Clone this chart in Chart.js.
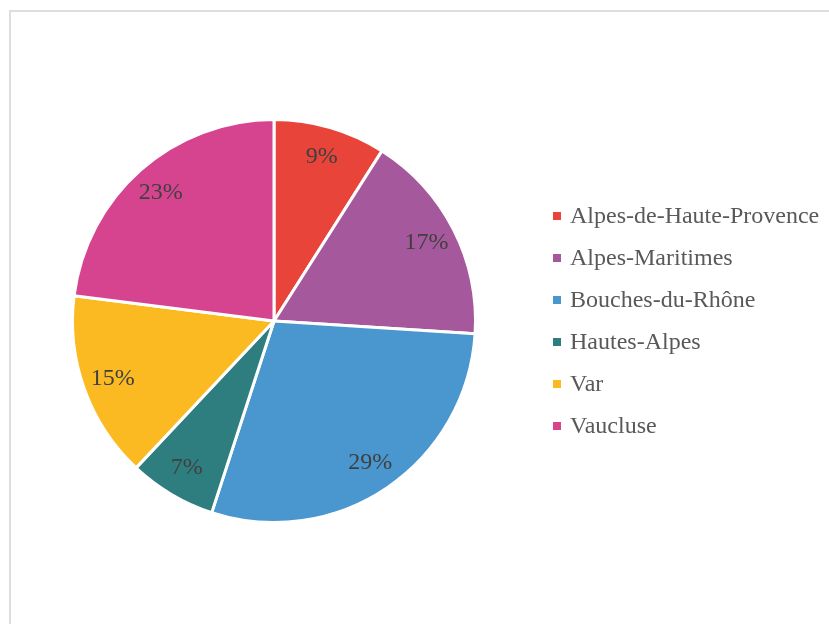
<!DOCTYPE html>
<html lang="fr">
<head>
<meta charset="utf-8">
<title>Répartition par département</title>
<script src="https://cdn.jsdelivr.net/npm/chart.js@4.4.1/dist/chart.umd.min.js"></script>
<style>
    html, body { margin: 0; padding: 0; background: #fff; overflow: hidden; }
    #cadre {
        position: absolute; left: 9px; top: 10px;
        width: 900px; height: 700px;
        border: 2px solid #dedede;
    }
    #wrap { position: absolute; left: 0; top: 0; width: 829px; height: 624px; }
</style>
</head>
<body>
<div id="cadre"></div>
<div id="wrap"><canvas id="myChart" width="829" height="624"></canvas></div>
<script>
var departements = ['Alpes-de-Haute-Provence', 'Alpes-Maritimes', 'Bouches-du-Rhône', 'Hautes-Alpes', 'Var', 'Vaucluse'];
var parts = [9, 17, 29, 7, 15, 23];
var couleurs = ['#E8443A', '#A5589B', '#4A96CF', '#2E7E80', '#FBBA22', '#D6448F'];

var police = "'Liberation Serif', 'Times New Roman', serif";

// pourcentages posés dans chaque part
var etiquettes = {
    id: 'etiquettes',
    afterDatasetsDraw: function (chart) {
        var ctx = chart.ctx;
        var meta = chart.getDatasetMeta(0);
        var total = parts.reduce(function (a, b) { return a + b; }, 0);
        ctx.save();
        ctx.font = '24px ' + police;
        ctx.fillStyle = '#404040';
        ctx.textAlign = 'center';
        ctx.textBaseline = 'alphabetic';
        meta.data.forEach(function (arc, i) {
            var p = arc.getProps(['x', 'y', 'startAngle', 'endAngle', 'outerRadius'], true);
            var a = (p.startAngle + p.endAngle) / 2;
            var r = p.outerRadius * 0.85;
            var x = p.x + Math.cos(a) * r;
            var y = p.y + Math.sin(a) * r;
            ctx.fillText(Math.round(parts[i] / total * 100) + '%', x, y + 6);
        });
        ctx.restore();
    }
};

// légende à droite
var legende = {
    id: 'legende',
    afterDraw: function (chart) {
        var ctx = chart.ctx;
        ctx.save();
        ctx.font = '24px ' + police;
        ctx.textAlign = 'left';
        ctx.textBaseline = 'alphabetic';
        departements.forEach(function (nom, i) {
            var y = 212 + i * 42;
            ctx.fillStyle = couleurs[i];
            ctx.fillRect(553, y, 8, 8);
            ctx.fillStyle = '#595959';
            ctx.fillText(nom, 570, y + 11);
        });
        ctx.restore();
    }
};

document.addEventListener('DOMContentLoaded', function () {
    var ctx = document.getElementById('myChart').getContext('2d');

    new Chart(ctx, {
        type: 'pie',
        data: {
            labels: departements,
            datasets: [{
                data: parts,
                backgroundColor: couleurs,
                borderColor: '#ffffff',
                borderWidth: 3
            }]
        },
        options: {
            responsive: false,
            animation: false,
            layout: {
                padding: { left: 71, right: 352, top: 118, bottom: 100 }
            },
            plugins: {
                legend: { display: false },
                tooltip: { enabled: false }
            }
        },
        plugins: [etiquettes, legende]
    });
});
</script>
</body>
</html>
